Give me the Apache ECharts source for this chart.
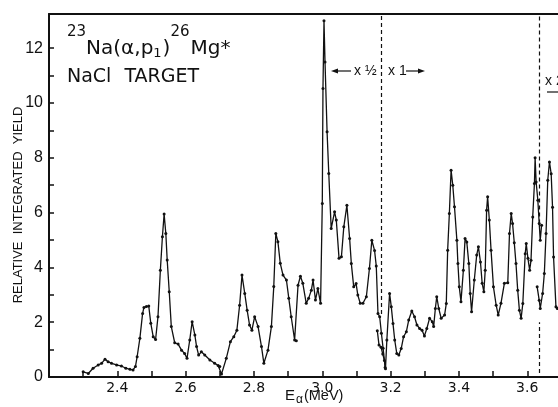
<!DOCTYPE html>
<html>
<head>
<meta charset="utf-8">
<script src="https://cdn.jsdelivr.net/npm/echarts/dist/echarts.min.js"></script>
<style>html,body{margin:0;padding:0;background:#fff}#main{width:558px;height:407px}</style>
</head>
<body>
<div id="main"></div>
<script>
// x 1/2 scale part of the excitation function
var halfEnergy = [2.300,2.315,2.329,2.344,2.354,2.364,2.373,2.383,2.398,2.412,2.425,2.437,2.446,2.453,2.458,2.466,2.474,2.478,2.485,2.492,2.498,2.505,2.512,2.519,2.526,2.532,2.537,2.542,2.546,2.552,2.558,2.568,2.578,2.588,2.597,2.604,2.612,2.619,2.627,2.632,2.638,2.646,2.656,2.671,2.685,2.695,2.700,2.705,2.719,2.731,2.741,2.750,2.758,2.765,2.773,2.780,2.787,2.794,2.802,2.812,2.822,2.829,2.841,2.851,2.858,2.864,2.870,2.877,2.885,2.895,2.902,2.909,2.919,2.924,2.929,2.936,2.943,2.953,2.960,2.968,2.973,2.980,2.987,2.995,3.000,3.002,3.005,3.008,3.014,3.019,3.026,3.036,3.041,3.049,3.056,3.063,3.072,3.080,3.085,3.092,3.099,3.104,3.111,3.119,3.129,3.138,3.145,3.153,3.158,3.163,3.168,3.173,3.178,3.184];
var halfYield = [0.19,0.13,0.32,0.44,0.50,0.65,0.56,0.50,0.44,0.40,0.32,0.28,0.26,0.38,0.74,1.41,2.32,2.54,2.57,2.59,1.96,1.47,1.37,2.20,3.90,5.12,5.95,5.24,4.27,3.11,1.84,1.25,1.20,0.98,0.86,0.68,1.35,2.02,1.53,1.11,0.80,0.92,0.80,0.62,0.50,0.42,0.38,0.11,0.68,1.29,1.47,1.71,2.62,3.72,3.05,2.44,1.90,1.71,2.20,1.84,1.11,0.50,0.98,1.84,3.30,5.24,4.94,4.15,3.72,3.54,2.87,2.20,1.35,1.32,3.35,3.68,3.42,2.69,2.87,3.17,3.54,2.81,3.23,2.69,6.33,10.53,13.00,11.50,8.95,7.43,5.42,6.03,5.73,4.33,4.39,5.48,6.27,5.06,4.14,3.29,3.41,2.99,2.69,2.69,2.93,3.96,4.99,4.62,4.05,2.32,2.20,1.60,1.05,0.35];

// x 1 scale part
var unitEnergy = [3.161,3.166,3.172,3.177,3.182,3.185,3.189,3.197,3.202,3.207,3.212,3.218,3.224,3.231,3.238,3.246,3.253,3.262,3.270,3.277,3.285,3.292,3.299,3.306,3.314,3.322,3.326,3.331,3.335,3.341,3.348,3.358,3.363,3.367,3.372,3.377,3.382,3.387,3.394,3.397,3.401,3.406,3.413,3.418,3.423,3.429,3.433,3.437,3.445,3.452,3.457,3.463,3.468,3.473,3.477,3.481,3.484,3.489,3.494,3.501,3.509,3.515,3.523,3.533,3.543,3.548,3.553,3.557,3.562,3.567,3.572,3.577,3.582,3.587,3.594,3.597,3.602,3.607,3.611,3.616,3.621,3.623,3.626,3.631,3.635,3.638,3.642];
var unitYield = [1.69,1.17,1.09,0.84,0.60,0.30,1.35,3.05,2.56,1.95,1.35,0.86,0.80,1.04,1.47,1.65,2.08,2.41,2.20,1.90,1.77,1.71,1.50,1.77,2.14,2.02,1.84,2.50,2.93,2.50,2.14,2.26,2.68,4.63,5.97,7.55,7.00,6.21,4.99,4.14,3.29,2.75,3.90,5.06,4.93,4.14,3.05,2.38,3.54,4.45,4.75,4.20,3.42,3.11,3.90,6.09,6.58,5.73,4.63,3.29,2.62,2.26,2.69,3.42,3.44,5.24,5.97,5.60,4.90,4.14,3.17,2.44,2.14,2.68,4.50,4.87,4.33,3.90,4.26,5.84,7.06,8.00,7.12,6.45,5.60,4.99,5.54];

// x 2 scale part
var doubleEnergy = [3.629,3.635,3.638,3.645,3.650,3.655,3.660,3.665,3.670,3.674,3.677,3.684,3.688];
var doubleYield = [3.29,2.80,2.50,3.05,3.78,5.24,7.18,7.85,7.42,6.20,4.38,2.56,2.50];

// energies where the plotting scale changes
var scaleBreaks = [3.173, 3.634];

var xTicks = [2.3,2.4,2.5,2.6,2.7,2.8,2.9,3.0,3.1,3.2,3.3,3.4,3.5,3.6];
var xLabels = [2.4,2.6,2.8,3.0,3.2,3.4,3.6];
var yTicks = [0,1,2,3,4,5,6,7,8,9,10,11,12];
var yLabels = [0,2,4,6,8,10,12];

var ink = '#111';
var sans = '"Liberation Sans", Arial, sans-serif';
var wide = '"DejaVu Sans", sans-serif';

function pairs(xs, ys) {
    return xs.map(function (x, i) { return [x, ys[i]]; });
}

// lay pieces of text one after another (for super/subscripts)
var measure = document.createElement('canvas').getContext('2d');
function textRun(x, family, parts) {
    return parts.map(function (p) {
        measure.font = p[1] + 'px ' + family;
        var el = {
            type: 'text', x: x, y: p[2],
            style: {text: p[0], fontSize: p[1], fontFamily: family, fill: ink, align: 'left', verticalAlign: 'middle'}
        };
        x += measure.measureText(p[0]).width + (p[3] || 0);
        return el;
    });
}

var dom = document.getElementById('main');
var myChart = echarts.init(dom);

function curve(name, xs, ys) {
    return {
        name: name,
        type: 'line',
        data: pairs(xs, ys),
        symbol: 'circle',
        symbolSize: 3,
        showAllSymbol: true,
        lineStyle: {color: ink, width: 1.3},
        itemStyle: {color: ink},
        z: 3
    };
}

var dash = {color: ink, width: 1.2, type: [4, 3]};

var s1 = curve('x1/2', halfEnergy, halfYield);
s1.markLine = {
    silent: true,
    symbol: ['none', 'none'],
    label: {show: false},
    lineStyle: dash,
    data: [
        [{coord: [scaleBreaks[0], 2.3]}, {coord: [scaleBreaks[0], 13.25]}],
        [{coord: [scaleBreaks[1], 0.15]}, {coord: [scaleBreaks[1], 2.0]}],
        [{coord: [scaleBreaks[1], 5.6]}, {coord: [scaleBreaks[1], 13.25]}]
    ]
};

var graphics = [].concat(
    textRun(67, wide, [['23', 15, 32.5], ['Na(α,p', 20, 48.5], ['1', 13, 54, 1], [')', 20, 48.5], ['26', 15, 32.5, 1], ['Mg*', 20, 48.5]]),
    textRun(67, wide, [['NaCl', 19, 77, 13], ['TARGET', 19, 77]]),
    textRun(285, sans, [['E', 15, 396, 1], ['α', 12, 400, 1], ['(MeV)', 14.5, 396]]),
    [
        {
            type: 'text', x: 18, y: 205, rotation: Math.PI / 2,
            style: {text: 'RELATIVE  INTEGRATED  YIELD', fontSize: 13, fontFamily: sans, fill: ink, align: 'center', verticalAlign: 'middle'}
        },
        // "<- x 1/2 | x 1 ->"
        {type: 'line', shape: {x1: 334, y1: 71, x2: 351, y2: 71}, style: {stroke: ink, lineWidth: 1.2}},
        {type: 'polygon', shape: {points: [[331, 71], [338, 68.5], [338, 73.5]]}, style: {fill: ink}},
        {type: 'text', x: 354, y: 71, style: {text: 'x ½', fontSize: 14, fontFamily: sans, fill: ink, verticalAlign: 'middle'}},
        {type: 'text', x: 388, y: 71, style: {text: 'x 1', fontSize: 14, fontFamily: sans, fill: ink, verticalAlign: 'middle'}},
        {type: 'line', shape: {x1: 406, y1: 71, x2: 421, y2: 71}, style: {stroke: ink, lineWidth: 1.2}},
        {type: 'polygon', shape: {points: [[425, 71], [418, 68.5], [418, 73.5]]}, style: {fill: ink}},
        // "x 2" with arrow running off the right edge
        {type: 'text', x: 545, y: 81, style: {text: 'x 2', fontSize: 14, fontFamily: sans, fill: ink, verticalAlign: 'middle'}},
        {type: 'line', shape: {x1: 547, y1: 92, x2: 560, y2: 92}, style: {stroke: ink, lineWidth: 1.2}}
    ]
);

option = {
    backgroundColor: '#fff',
    animation: false,
    grid: {left: 49, right: 0, top: 14, bottom: 30},
    xAxis: [{
        type: 'value',
        min: 2.2,
        max: 3.69,
        axisLine: {lineStyle: {color: ink, width: 2}},
        axisTick: {inside: true, length: 6, customValues: xTicks, lineStyle: {color: ink, width: 1.5}},
        axisLabel: {
            customValues: xLabels,
            margin: 4,
            color: ink,
            fontFamily: wide,
            fontSize: 14,
            formatter: function (v) { return v.toFixed(1); }
        },
        splitLine: {show: false}
    }, {
        type: 'value',
        position: 'top',
        min: 2.2,
        max: 3.69,
        axisLine: {show: true, onZero: false, lineStyle: {color: ink, width: 2}},
        axisTick: {show: false},
        axisLabel: {show: false},
        splitLine: {show: false}
    }],
    yAxis: {
        type: 'value',
        min: 0,
        max: 13.25,
        axisLine: {show: true, lineStyle: {color: ink, width: 2}},
        axisTick: {show: true, inside: true, length: 5, customValues: yTicks, lineStyle: {color: ink, width: 1.5}},
        axisLabel: {customValues: yLabels, margin: 6, color: ink, fontFamily: sans, fontSize: 16},
        splitLine: {show: false}
    },
    series: [
        s1,
        curve('x1', unitEnergy, unitYield),
        curve('x2', doubleEnergy, doubleYield)
    ],
    graphic: graphics
};

myChart.setOption(option, true);
</script>
</body>
</html>
